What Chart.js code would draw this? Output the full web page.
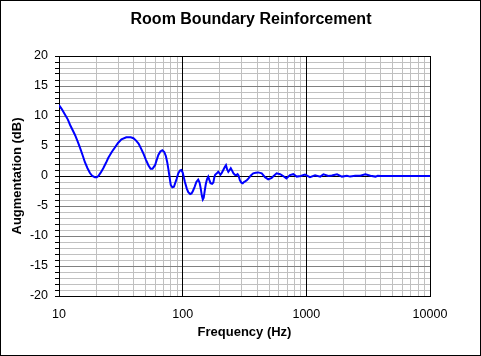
<!DOCTYPE html>
<html>
<head>
<meta charset="utf-8">
<script src="https://cdn.jsdelivr.net/npm/chart.js@4"></script>
<style>
  body { margin: 0; background: #fff; }
  canvas { display: block; }
</style>
</head>
<body>
<canvas id="roomChart" width="481" height="356"></canvas>
<script>
// Frequency (Hz) and boundary gain (dB)
const freqHz = [
  10, 10.5, 11.2, 11.8, 12.3, 13, 13.5, 14.2, 14.8, 15.5, 16.2, 17, 17.8, 18.6, 19.5, 20.2, 20.8,
  21.8, 22.8, 24, 25, 26.7, 28.4, 30, 32, 35, 38, 40, 42, 44, 46, 48, 50.5, 52.8, 55, 57, 59.8,
  61.5, 63.6, 66, 68.5, 71, 73.2, 75, 76.7, 78.5, 80.1, 82.5, 85, 87, 89.3, 92, 95, 97.5, 100,
  104, 108, 111, 115, 118, 121, 125, 129, 133.5, 137, 140, 143, 145.5, 148, 151, 154, 157.5, 161,
  164, 168, 173, 177, 180, 183, 188, 194, 198, 202, 207, 213, 219, 224, 229, 234, 240, 245, 251,
  257, 264, 271, 278, 283, 290, 298, 306, 313, 320, 330, 341, 356, 372, 390, 409, 436, 463, 492,
  525, 550, 575, 614, 650, 690, 737, 785, 837, 900, 975, 1070, 1177, 1295, 1375, 1510, 1610,
  1770, 1940, 2130, 2260, 2485, 2730, 3000, 3300, 3620, 3780, 4000, 10000
];
const gainDb = [
  11.8, 11.2, 10.2, 9.4, 8.5, 7.5, 6.8, 5.7, 4.7, 3.5, 2.3, 1.3, 0.5, 0.0, -0.2, -0.2, 0.0,
  0.6, 1.3, 2.2, 3.0, 4.0, 4.8, 5.5, 6.1, 6.45, 6.45, 6.3, 5.9, 5.4, 4.6, 3.8, 2.7, 1.8, 1.2, 1.2, 1.8,
  2.6, 3.5, 4.1, 4.3, 4.0, 3.3, 2.3, 1.1, -0.3, -1.5, -1.9, -1.8, -1.2, -0.5, 0.4, 0.9, 1.0, 0.6,
  -0.9, -2.1, -2.7, -3.0, -2.9, -2.5, -1.8, -1.0, -0.6, -1.1, -2.1, -3.3, -3.9, -3.6, -2.4, -1.3, -0.5, -0.1,
  -0.6, -1.2, -1.3, -1.1, -0.3, 0.2, 0.4, 0.7, 0.5, 0.2, 0.5, 1.0, 1.5, 1.8, 1.1, 0.7, 1.0, 1.3, 0.9,
  0.45, 0.2, 0.15, 0.3, 0.1, -0.7, -1.1, -1.2, -1.0, -0.9, -0.7, -0.4, 0.1, 0.45, 0.55, 0.6, 0.45, -0.2, -0.55,
  -0.3, 0.1, 0.45, 0.3, 0.0, -0.4, 0.15, 0.3, -0.1, 0.0, 0.25, -0.2, 0.1, -0.1, 0.28, 0.0, 0.1,
  0.28, -0.1, 0.05, -0.1, 0.05, 0.05, 0.28, 0.05, -0.1, 0.05, 0, 0
];

// Axis grid positions and labelled ticks
const xGridHz = [
  10, 20, 30, 40, 50, 60, 70, 80, 90,
  100, 200, 300, 400, 500, 600, 700, 800, 900,
  1000, 2000, 3000, 4000, 5000, 6000, 7000, 8000, 9000, 10000
];
const xLabelHz = [10, 100, 1000, 10000];
const xDarkHz = [100, 1000, 10000];
const yLabelDb = [-20, -15, -10, -5, 0, 5, 10, 15, 20];
const yDarkDb = [0, 20];

const points = freqHz.map((f, i) => ({ x: f, y: gainDb[i] }));
const font = 'Liberation Sans, Arial, sans-serif';

// same rounding Chart.js uses for 1px grid lines
const crisp = (px) => Math.round(px + 0.5) - 0.5;

const framePlugin = {
  id: 'frame',
  beforeDraw(chart) {
    const c = chart.ctx;
    c.save();
    c.fillStyle = '#ffffff';
    c.fillRect(0, 0, chart.width, chart.height);
    c.restore();
  },
  // black decade / zero lines go over the grey grid, under the curve
  beforeDatasetsDraw(chart) {
    const c = chart.ctx;
    const { left, right, top, bottom } = chart.chartArea;
    const xs = chart.scales.x, ys = chart.scales.y;
    c.save();
    c.strokeStyle = '#000000';
    c.lineWidth = 1;
    c.beginPath();
    xDarkHz.forEach(v => {
      const px = crisp(xs.getPixelForValue(v));
      c.moveTo(px, top);
      c.lineTo(px, bottom);
    });
    yDarkDb.forEach(v => {
      const py = crisp(ys.getPixelForValue(v));
      c.moveTo(left, py);
      c.lineTo(right, py);
    });
    c.stroke();
    c.restore();
  },
  afterDraw(chart) {
    const c = chart.ctx;
    c.save();
    c.strokeStyle = '#000000';
    c.lineWidth = 1;
    c.strokeRect(0.5, 0.5, chart.width - 1, chart.height - 1);
    c.restore();
  }
};

const ctx = document.getElementById('roomChart').getContext('2d');
new Chart(ctx, {
  type: 'line',
  data: {
    datasets: [{
      label: 'Augmentation',
      data: points,
      borderColor: '#0000ff',
      borderWidth: 2,
      pointRadius: 0,
      fill: false,
      tension: 0
    }]
  },
  options: {
    responsive: false,
    animation: false,
    layout: { padding: { left: 21, right: 0, top: 0, bottom: 0 } },
    plugins: {
      legend: { display: false },
      tooltip: { enabled: false },
      title: {
        display: true,
        text: 'Room Boundary Reinforcement',
        color: '#000',
        font: { family: font, size: 16, weight: 'bold' },
        padding: { top: 10, bottom: 26.8 }
      }
    },
    scales: {
      x: {
        type: 'logarithmic',
        min: 10,
        max: 10000,
        afterBuildTicks: (scale) => {
          scale.ticks = xGridHz.map(v => ({ value: v }));
        },
        afterFit: (scale) => {
          scale.height = 60;
          scale.paddingRight = 51;
        },
        grid: {
          drawTicks: false,
          color: (c) => xDarkHz.includes(c.tick.value) ? '#000000' : '#c0c0c0',
          lineWidth: 1
        },
        border: { color: '#000000' },
        ticks: {
          autoSkip: false,
          maxRotation: 0,
          padding: 11,
          color: '#000',
          font: { family: font, size: 12.5 },
          callback: (v) => xLabelHz.includes(v) ? String(v) : ''
        },
        title: {
          display: true,
          text: 'Frequency (Hz)',
          color: '#000',
          font: { family: font, size: 13, weight: 'bold' },
          padding: { top: 0, bottom: 16 }
        }
      },
      y: {
        min: -20,
        max: 20,
        afterFit: (scale) => {
          scale.width = 38;
        },
        grid: {
          color: (c) => {
            const v = c.tick.value;
            if (v === 0 || v === 20 || v === -20) return '#000000';
            if (v % 5 === 0) return '#808080';
            return '#c0c0c0';
          },
          tickColor: '#000000',
          tickLength: 4,
          lineWidth: 1
        },
        border: { color: '#000000' },
        ticks: {
          stepSize: 1,
          autoSkip: false,
          padding: 7,
          color: '#000',
          font: { family: font, size: 12.5 },
          callback: (v) => yLabelDb.includes(v) ? String(v) : ''
        },
        title: {
          display: true,
          text: 'Augmentation (dB)',
          color: '#000',
          font: { family: font, size: 13, weight: 'bold' },
          padding: { top: -11, bottom: 0 }
        }
      }
    }
  },
  plugins: [framePlugin]
});
</script>
</body>
</html>
